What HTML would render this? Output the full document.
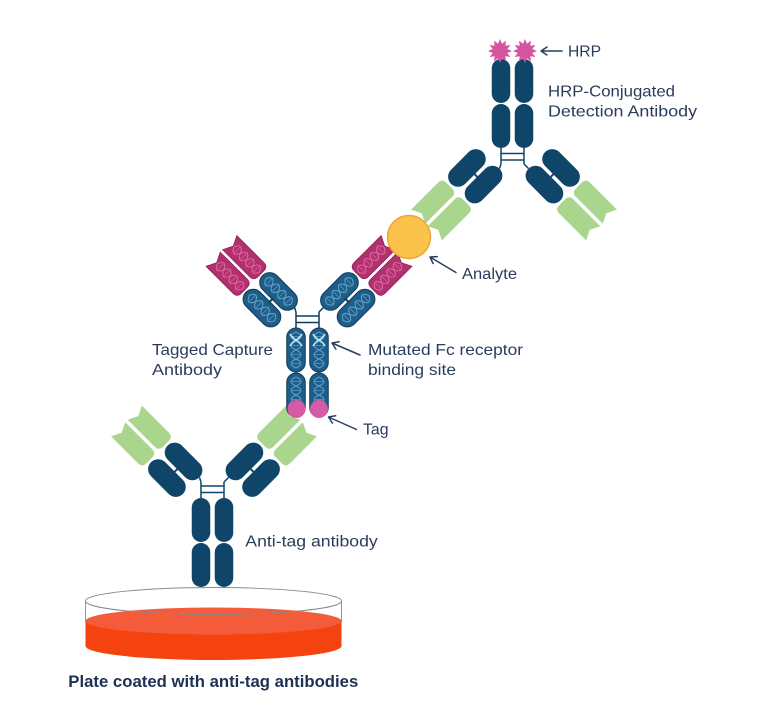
<!DOCTYPE html>
<html>
<head>
<meta charset="utf-8">
<style>
  html,body{margin:0;padding:0;background:#fff;}
  svg{display:block;}
  text{font-family:"Liberation Sans",sans-serif;font-size:16px;fill:#2a3b5c;}
</style>
</head>
<body>
<svg width="772" height="720" viewBox="0 0 772 720" xmlns="http://www.w3.org/2000/svg">
<defs>
  <path id="gp" d="M69,-10 L31,-10 Q25,-10 25,-4 L25,4 Q25,10 31,10 L69,10 L64,0 Z"/>
  <rect id="cap" x="-22" y="-9.25" width="44" height="18.5" rx="9.25"/>
  <rect id="capA" x="-22.5" y="-10" width="45" height="20" rx="10"/>
  <g id="hx" fill="none">
    <path d="M-18,0 C-15,-6.5 -12,-6.5 -9,0 C-6,6.5 -3,6.5 0,0 C3,-6.5 6,-6.5 9,0 C12,6.5 15,6.5 18,0"/>
    <path d="M-18,0 C-15,6.5 -12,6.5 -9,0 C-6,-6.5 -3,-6.5 0,0 C3,6.5 6,6.5 9,0 C12,-6.5 15,-6.5 18,0"/>
    <path d="M-13.5,-4V4M-4.5,-4V4M4.5,-4V4M13.5,-4V4" stroke-width="0.7"/>
  </g>
  <g id="armN">
    <g fill="#0f4569"><use href="#capA" y="11.75"/><use href="#capA" y="-11.75"/></g>
    <line x1="-1" y1="-3" x2="-1" y2="3" stroke="#0f4569" stroke-width="2"/>
    <g fill="#a9d58c"><use href="#gp" y="11.75"/><use href="#gp" y="-11.75"/></g>
  </g>
  <g id="armC">
    <g fill="#1d5d88" stroke="#0d3c5d" stroke-width="1"><use href="#capA" y="11.75"/><use href="#capA" y="-11.75"/></g>
    <g stroke="#5f9fc9" stroke-width="1.1"><use href="#hx" y="11.75"/><use href="#hx" y="-11.75"/></g>
    <line x1="-1" y1="-3" x2="-1" y2="3" stroke="#0d3c5d" stroke-width="2"/>
    <g fill="#b3306e" stroke="#8f2358" stroke-width="0.8"><use href="#gp" y="11.75"/><use href="#gp" y="-11.75"/></g>
    <g stroke="#d9689f" stroke-width="1.1"><use href="#hx" transform="translate(45,11.75)"/><use href="#hx" transform="translate(45,-11.75)"/></g>
  </g>
  <polygon id="star" points="0,-12 1.94,-7.24 6,-10.39 5.3,-5.3 10.39,-6 7.24,-1.94 12,0 7.24,1.94 10.39,6 5.3,5.3 6,10.39 1.94,7.24 0,12 -1.94,7.24 -6,10.39 -5.3,5.3 -10.39,6 -7.24,1.94 -12,0 -7.24,-1.94 -10.39,-6 -5.3,-5.3 -6,-10.39 -1.94,-7.24"/>
</defs>

<!-- Plate -->
<ellipse cx="213.5" cy="601" rx="128" ry="13.5" fill="#fff" stroke="#8a8a8a" stroke-width="0.9"/>
<path d="M85.5,601 V622 M341.5,601 V622" stroke="#8a8a8a" stroke-width="0.9"/>
<path d="M85.5,621 V646 A128,14 0 0 0 341.5,646 V621 Z" fill="#f4430f"/>
<ellipse cx="213.5" cy="621" rx="128" ry="13.5" fill="#f45b3b"/>
<path d="M85.5,601 A128,13.5 0 0 0 341.5,601" fill="none" stroke="#8a8a8a" stroke-width="0.9"/>

<!-- Anti-tag antibody (bottom) -->
<g fill="#0f4569">
  <use href="#cap" transform="translate(201,520) rotate(90)"/>
  <use href="#cap" transform="translate(201,565) rotate(90)"/>
  <use href="#cap" transform="translate(224,520) rotate(90)"/>
  <use href="#cap" transform="translate(224,565) rotate(90)"/>
</g>
<g stroke="#0f4569" stroke-width="1.5" fill="none">
  <path d="M201,482 V498 M224,482 V498 M201,486 H224 M201,492.5 H224 M201,482 L199.5,477.5 M224,482 L228.5,477.5"/>
</g>
<use href="#armN" transform="translate(175.25,469.75) rotate(225)"/>
<use href="#armN" transform="translate(252.75,469.75) scale(-1,1) rotate(225)"/>

<!-- Tagged capture antibody -->
<g fill="#1d5d88" stroke="#0d3c5d" stroke-width="1">
  <use href="#cap" transform="translate(296,350) rotate(90)"/>
  <use href="#cap" transform="translate(296,395) rotate(90)"/>
  <use href="#cap" transform="translate(319,350) rotate(90)"/>
  <use href="#cap" transform="translate(319,395) rotate(90)"/>
</g>
<g stroke="#5f9fc9" stroke-width="1.1">
  <use href="#hx" transform="translate(296,350) rotate(90)"/>
  <use href="#hx" transform="translate(296,395) rotate(90)"/>
  <use href="#hx" transform="translate(319,350) rotate(90)"/>
  <use href="#hx" transform="translate(319,395) rotate(90)"/>
</g>
<g stroke="#c5e6f5" stroke-width="1.6" fill="none">
  <path d="M290,334 C293,340 299,340 302,346 M302,334 C299,340 293,340 290,346"/>
  <path d="M313,334 C316,340 322,340 325,346 M325,334 C322,340 316,340 313,346"/>
</g>
<g stroke="#0d3c5d" stroke-width="1.5" fill="none">
  <path d="M296,312 V328 M319,312 V328 M296,316 H319 M296,322.5 H319 M296,312 L294.5,307.5 M319,312 L323.5,307.5"/>
</g>
<use href="#armC" transform="translate(270.25,299.75) rotate(225)"/>
<use href="#armC" transform="translate(347.75,299.75) scale(-1,1) rotate(225)"/>
<circle cx="296.5" cy="409" r="9" fill="#d65aa5"/>
<circle cx="319" cy="409" r="9" fill="#d65aa5"/>

<!-- Detection antibody -->
<g fill="#0f4569">
  <use href="#cap" transform="translate(501,126) rotate(90)"/>
  <use href="#cap" transform="translate(501,81) rotate(90)"/>
  <use href="#cap" transform="translate(524,126) rotate(90)"/>
  <use href="#cap" transform="translate(524,81) rotate(90)"/>
</g>
<g stroke="#0f4569" stroke-width="1.5" fill="none">
  <path d="M501,148 V164 M524,148 V164 M501,160 H524 M501,153.5 H524 M501,164 L499.5,168.5 M524,164 L528.5,168.5"/>
</g>
<use href="#armN" transform="translate(475.25,176.25) scale(1,-1) rotate(225)"/>
<use href="#armN" transform="translate(552.75,176.25) scale(-1,-1) rotate(225)"/>
<g fill="#d4549e">
  <use href="#star" transform="translate(500,51)"/>
  <use href="#star" transform="translate(525,51)"/>
</g>

<!-- Analyte -->
<circle cx="409" cy="237" r="21.5" fill="#fbc34b" stroke="#eea53a" stroke-width="1.5"/>

<!-- Arrows -->
<g stroke="#2b3d5e" stroke-width="1.5" fill="none" stroke-linecap="round" stroke-linejoin="round">
  <path d="M562,51 L541,51 M547,47 L541,51 L547,55"/>
  <path d="M456,272.5 L430,257 M437.2,256.6 L430,257 L433.1,263.5"/>
  <path d="M360,355 L332,343 M339.1,341.7 L332,343 L335.9,349.1"/>
  <path d="M356.5,429.5 L328.5,417 M335.6,415.8 L328.5,417 L332.4,423.1"/>
</g>

<!-- Labels -->
<text x="568" y="56.5" textLength="33" lengthAdjust="spacingAndGlyphs">HRP</text>
<text x="548" y="96.5" textLength="127" lengthAdjust="spacingAndGlyphs">HRP-Conjugated</text>
<text x="548" y="116.5" textLength="149" lengthAdjust="spacingAndGlyphs">Detection Antibody</text>
<text x="462" y="279" textLength="55" lengthAdjust="spacingAndGlyphs">Analyte</text>
<text x="152" y="355" textLength="121" lengthAdjust="spacingAndGlyphs">Tagged Capture</text>
<text x="152" y="375" textLength="70" lengthAdjust="spacingAndGlyphs">Antibody</text>
<text x="368" y="355" textLength="155" lengthAdjust="spacingAndGlyphs">Mutated Fc receptor</text>
<text x="368" y="375" textLength="88" lengthAdjust="spacingAndGlyphs">binding site</text>
<text x="363" y="434.5" textLength="25.5" lengthAdjust="spacingAndGlyphs">Tag</text>
<text x="245.3" y="546.7" textLength="132.4" lengthAdjust="spacingAndGlyphs">Anti-tag antibody</text>
<text x="68.3" y="687" textLength="290" lengthAdjust="spacingAndGlyphs" style="font-weight:bold;font-size:16.5px;fill:#1f3153;">Plate coated with anti-tag antibodies</text>
</svg>
</body>
</html>
